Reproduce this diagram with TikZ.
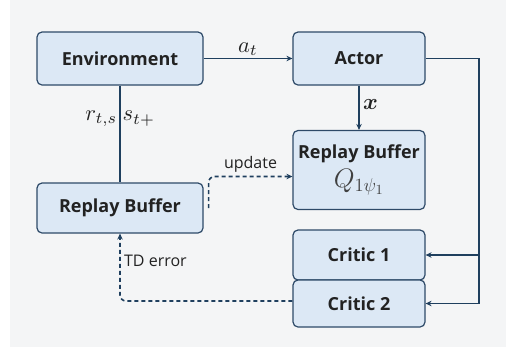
\documentclass[tikz,border=0pt]{standalone}
\usepackage{amsmath}
\usepackage{amssymb}
\usepackage{graphicx}
\usepackage{fontspec}
\setsansfont{Open Sans}
\usepackage{tikz}
\usetikzlibrary{
  arrows.meta,  % Stealth 箭头
  calc,         % 坐标计算
  positioning   % 节点相对定位
}
\definecolor{boxfill}{HTML}{DCE8F5}
\definecolor{boxline}{HTML}{2E4A68}
\definecolor{flowline}{HTML}{1F3F5E}
\definecolor{bgpage}{HTML}{F4F5F6}
\definecolor{txt}{HTML}{222222}
% 数学符号放大
\newcommand{\bigsym}[1]{\scalebox{2.25}{$#1$}}

\begin{document}
\begin{tikzpicture}[>={Stealth[length=6pt, width=5.5pt]}, x=1pt, y=-1pt,
  block/.style={draw=boxline, fill=boxfill, line width=1.2pt, rounded corners=5pt,
    inner sep=0pt, text=txt, font=\sffamily\bfseries\fontsize{18}{20}\selectfont},
  flow/.style={draw=flowline, line width=1.4pt},
  feedback/.style={flow, line width=1.6pt, dash pattern=on 4pt off 3pt, rounded corners=6pt},
  tag/.style={text=txt, font=\sffamily\fontsize{16}{18}\selectfont},
  sym/.style={text=txt}]
  % 画布与背景（像素坐标，y 轴向下）
  \useasboundingbox (0,0) rectangle (506,360);
  \fill[white] (0,0) rectangle (506,360);
  \fill[bgpage] (10,0) rectangle (506,347);

  % 1. 各个模块
  \node[block, minimum width=166pt, minimum height=53pt] (env) at (120,58.5) {Environment};
  \node[block, minimum width=132pt, minimum height=79pt, align=center] (buffer) at (359,170)
    {Replay Buffer\\[5pt]\textcolor{black!75}{\scalebox{1.55}{$Q_{1\psi_1}$}}};
  \node[block, minimum width=132pt, minimum height=53pt] (actor) at (359,58.5) {Actor};
  \node[block, minimum width=166pt, minimum height=50pt] (replay) at (120,208) {Replay Buffer};
  \node[block, minimum width=132pt, minimum height=50pt] (critic1) at (359,255) {Critic 1};
  \node[block, minimum width=132pt, minimum height=47pt] (critic2) at (359,303.5) {Critic 2};

  % 2. 主数据流（实线）
  \draw[flow, ->] (env) -- node[sym, above, inner sep=2pt] {\bigsym{a_t}} (actor);
  \draw[flow, ->] (actor) -- node[sym, right, pos=0.43] {\bigsym{\boldsymbol{x}}} (buffer);
  \draw[flow] (env) -- node[sym, left, pos=0.34, inner sep=2pt] {\bigsym{r_{t,s}}}
                       node[sym, right, pos=0.34, inner sep=2pt] {\bigsym{s_{t+}}} (replay);

  % Actor 输出送往两个 Critic
  \coordinate (rail) at (479,58.5);
  \draw[flow] (actor.east) -- (rail) -- (rail |- critic2);
  \draw[flow, ->] (rail |- critic1) -- (critic1);
  \draw[flow, ->] (rail |- critic2) -- (critic2);

  % 3. 反馈（虚线）
  \draw[feedback, ->] ([xshift=5pt]replay.east) |- node[tag, above, pos=0.75] {update}
    ([yshift=-6.5pt]buffer.west);
  \draw[feedback, ->] ([yshift=2.5pt]critic2.west) -| node[tag, right, pos=0.8] {TD error}
    (replay.south);
\end{tikzpicture}
\end{document}
